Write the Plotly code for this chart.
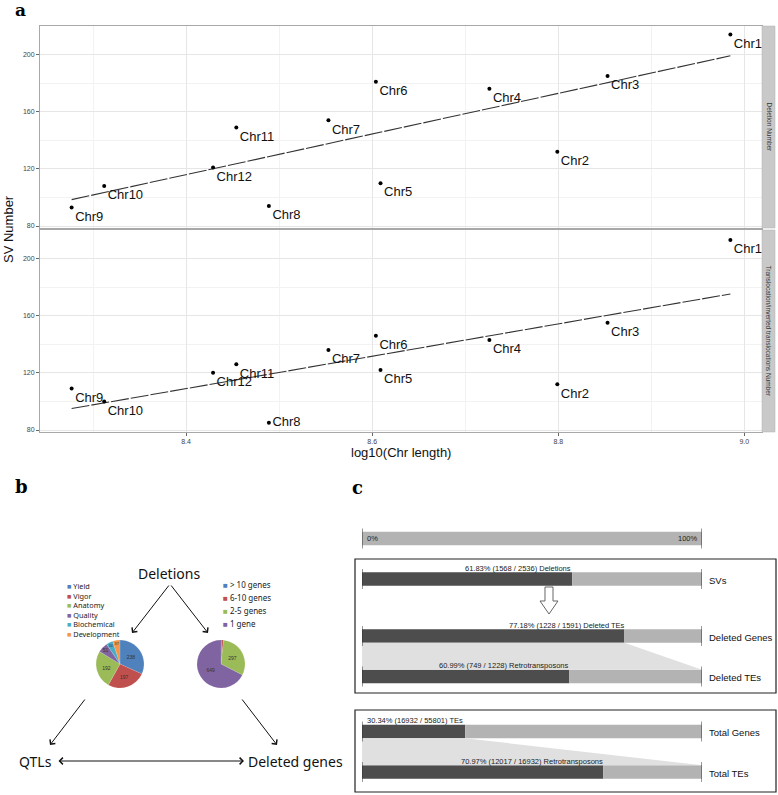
import numpy as np
import plotly.graph_objects as go

# ---------------- data ----------------
chroms = ['Chr1', 'Chr2', 'Chr3', 'Chr4', 'Chr5', 'Chr6', 'Chr7', 'Chr8', 'Chr9', 'Chr10', 'Chr11', 'Chr12']
log_len = [8.985, 8.799, 8.853, 8.726, 8.609, 8.604, 8.553, 8.489, 8.277, 8.312, 8.454, 8.429]
deletion_num = [214, 132, 185, 176, 110, 181, 154, 94, 93, 108, 149, 121]
transloc_num = [213, 112, 155, 143, 122, 146, 136, 85, 109, 100, 126, 120]
x_ticks = [8.4, 8.6, 8.8, 9.0]
y_ticks = [80, 120, 160, 200]
strip_labels = ['Deletion Number', 'Translocation/inverted translocations Number']

qtl_labels = ['Yield', 'Vigor', 'Anatomy', 'Quality', 'Biochemical', 'Development']
qtl_values = [238, 197, 192, 51, 34, 37]
gene_labels = ['> 10 genes', '6-10 genes', '2-5 genes', '1 gene']
gene_values = [6, 10, 297, 649]

bar_rows = ['SVs', 'Deleted Genes', 'Deleted TEs', 'Total Genes', 'Total TEs']
bar_pct = [61.83, 77.18, 60.99, 30.34, 70.97]
bar_text = ['61.83% (1568 / 2536) Deletions', '77.18% (1228 / 1591) Deleted TEs',
            '60.99% (749 / 1228) Retrotransposons', '30.34% (16932 / 55801) TEs',
            '70.97% (12017 / 16932) Retrotransposons']

# ---------------- layout helpers ----------------
W, H = 778, 795
def px(x):
    return x / W
def py(y):
    return 1 - y / H

excel = ['#4F81BD', '#C0504D', '#9BBB59', '#8064A2', '#4BACC6', '#F79646']
FONT = 'Liberation Sans'
BFONT = 'Noto Sans'

def label(text, x, y, size, family=FONT, color='#111', xanchor='center', yanchor='middle', **kw):
    return dict(text=text, xref='paper', yref='paper', x=px(x), y=py(y), showarrow=False,
                xanchor=xanchor, yanchor=yanchor, font=dict(family=family, size=size, color=color), **kw)

fig = go.Figure()

# ---------------- panel a ----------------
xr = [8.243, 9.019]
yr = [78.6, 220.0]
for idx, (vals, xa, ya) in enumerate([(deletion_num, 'x', 'y'), (transloc_num, 'x2', 'y2')]):
    xs = np.array(log_len)
    ys = np.array(vals, dtype=float)
    k, b = np.polyfit(xs, ys, 1)
    xl = np.array([xs.min(), xs.max()])
    fig.add_trace(go.Scatter(x=xl, y=k * xl + b, mode='lines', xaxis=xa, yaxis=ya,
                             line=dict(color='#333333', width=1.1, dash='18px,2px'),
                             hoverinfo='skip'))
    tpos = ['bottom right'] * len(chroms)
    if idx == 1:
        tpos[chroms.index('Chr8')] = 'middle right'
    fig.add_trace(go.Scatter(x=log_len, y=vals, mode='markers+text', text=chroms,
                             textposition=tpos, xaxis=xa, yaxis=ya, cliponaxis=False,
                             textfont=dict(family=FONT, size=13, color='#111'),
                             marker=dict(color='black', size=4)))

grid_major = '#e6e6e6'
grid_minor = '#f2f2f2'
axis_common = dict(showline=True, mirror=True, linecolor='#a8a8a8', linewidth=1,
                   showgrid=True, gridcolor=grid_major, gridwidth=1, zeroline=False,
                   ticklen=3, tickcolor='#666',
                   tickfont=dict(family=FONT, size=7, color='#444'))
xdom = [px(40), px(762)]
fig.update_layout(
    xaxis=dict(domain=xdom, anchor='y', range=xr, tickvals=x_ticks, showticklabels=False, ticks='',
               minor=dict(dtick=0.1, tick0=8.3, showgrid=True, gridcolor=grid_minor),
               **axis_common),
    yaxis=dict(domain=[py(228), py(26)], anchor='x', range=yr, tickvals=y_ticks, ticks='outside',
               minor=dict(dtick=20, tick0=80, showgrid=True, gridcolor=grid_minor),
               **axis_common),
    xaxis2=dict(domain=xdom, anchor='y2', range=xr, tickvals=x_ticks, ticks='outside',
                ticktext=[f'{v:.1f}' for v in x_ticks],
                minor=dict(dtick=0.1, tick0=8.3, showgrid=True, gridcolor=grid_minor),
                **axis_common),
    yaxis2=dict(domain=[py(432), py(230)], anchor='x2', range=yr, tickvals=y_ticks, ticks='outside',
                minor=dict(dtick=20, tick0=80, showgrid=True, gridcolor=grid_minor),
                **axis_common),
)

shapes = []
annotations = []
# strips
for (y0, y1), lab in zip([(26, 228), (230, 432)], strip_labels):
    shapes.append(dict(type='rect', xref='paper', yref='paper', x0=px(762), x1=px(775),
                       y0=py(y1), y1=py(y0), fillcolor='#c9c9c9', line=dict(color='#b0b0b0', width=0.5)))
    annotations.append(label(lab, 768.5, (y0 + y1) / 2, 6.5, color='#333', textangle=90))

annotations += [
    label('SV Number', 9, 229, 13, textangle=-90),
    label('log10(Chr length)', 401, 452, 13),
    label('<b>a</b>', 20, 10.5, 17, family='DejaVu Serif', color='black', borderpad=0),
    label('<b>b</b>', 21, 486, 18, family='DejaVu Serif', color='black'),
    label('<b>c</b>', 357, 487, 18, family='DejaVu Serif', color='black'),
]

# ---------------- panel b ----------------
r = 24
for labels, vals, cx, cy in [(qtl_labels, qtl_values, 120, 664), (gene_labels, gene_values, 221, 664)]:
    fig.add_trace(go.Pie(labels=labels, values=vals, sort=False, direction='clockwise', rotation=0,
                         marker=dict(colors=excel[:len(vals)], line=dict(color='rgba(255,255,255,0.4)', width=0.3)),
                         textinfo='value', textposition='inside', insidetextorientation='horizontal',
                         textfont=dict(size=5, color='#333', family=FONT),
                         domain=dict(x=[px(cx - r), px(cx + r)], y=[py(cy + r), py(cy - r)]),
                         showlegend=False))

# manual legends
for i, lab in enumerate(qtl_labels):
    annotations.append(label(f'<span style="color:{excel[i]}">■</span> {lab}', 66, 586 + i * 9.6, 7.3,
                             family=BFONT, color='#222', xanchor='left', borderpad=0))
for i, lab in enumerate(gene_labels):
    annotations.append(label(f'<span style="color:{excel[i]}">■</span> {lab}', 222, 584 + i * 13, 8,
                             family=BFONT, color='#222', xanchor='left', borderpad=0))

annotations += [
    label('Deletions', 169, 573, 14, family=BFONT),
    label('QTLs', 35, 761, 14, family=BFONT),
    label('Deleted genes', 295, 761, 14, family=BFONT),
]
arrow_style = dict(showarrow=True, arrowhead=4, arrowsize=1.3, arrowwidth=1, arrowcolor='#111',
                   xref='paper', yref='paper', text='', standoff=0, startstandoff=0)
for head, tail in [((132, 633), (170, 584)), ((208, 633), (170, 584)),
                   ((50, 745), (86, 698)), ((277, 745), (241, 698))]:
    annotations.append(dict(x=px(head[0]), y=py(head[1]), ax=tail[0] - head[0], ay=tail[1] - head[1],
                            **arrow_style))
annotations.append(dict(x=px(244), y=py(761), ax=57 - 244, ay=0, arrowside='end+start', **arrow_style))

# ---------------- panel c ----------------
row_y = {'scale': 538.5, 'SVs': 579, 'Deleted Genes': 636, 'Deleted TEs': 676.5,
         'Total Genes': 731.5, 'Total TEs': 772}
bw = 13.5
dark = '#4d4d4d'
light = '#b3b3b3'
fill = '#e0e0e0'

# connecting trapezoids
for upper, lower in [('Deleted Genes', 'Deleted TEs'), ('Total Genes', 'Total TEs')]:
    p = bar_pct[bar_rows.index(upper)]
    yu = row_y[upper] + bw / 2
    yl = row_y[lower] - bw / 2
    fig.add_trace(go.Scatter(x=[0, p, 100, 0, 0], y=[yu, yu, yl, yl, yu], fill='toself', mode='lines',
                             line=dict(width=0), fillcolor=fill, xaxis='x3', yaxis='y3', hoverinfo='skip'))

# scale bar
fig.add_trace(go.Bar(y=[row_y['scale']], x=[100], base=[0], orientation='h', width=bw,
                     marker=dict(color=light, line=dict(width=0)), xaxis='x3', yaxis='y3'))
ys = [row_y[r_] for r_ in bar_rows]
fig.add_trace(go.Bar(y=ys, x=bar_pct, base=[0] * len(bar_pct), orientation='h', width=bw,
                     marker=dict(color=dark, line=dict(width=0)), xaxis='x3', yaxis='y3'))
fig.add_trace(go.Bar(y=ys, x=[100 - p for p in bar_pct], base=bar_pct, orientation='h', width=bw,
                     marker=dict(color=light, line=dict(width=0)), xaxis='x3', yaxis='y3'))

fig.update_layout(
    xaxis3=dict(domain=[px(362), px(702)], range=[0, 100], visible=False, anchor='y3'),
    yaxis3=dict(domain=[0, py(520)], range=[795, 520], visible=False, anchor='x3'),
    barmode='overlay',
)

for key in ['scale'] + bar_rows:
    c = row_y[key]
    for xv in (0, 100):
        shapes.append(dict(type='line', xref='x3', yref='y3', x0=xv, x1=xv, y0=c - 10, y1=c + 10,
                           line=dict(color='#333', width=1)))

label_x = [45.9, 60.3, 41.5, 15.6, 50.0]
for key, txt, lx in zip(bar_rows, bar_text, label_x):
    annotations.append(dict(text=txt, xref='x3', yref='y3', x=lx, y=row_y[key] - bw / 2 - 4,
                            xanchor='center', yanchor='middle',
                            showarrow=False, font=dict(family=FONT, size=7.5, color='#222')))
    annotations.append(dict(text=key, xref='paper', yref='y3', x=px(707), y=row_y[key] + 1,
                            xanchor='left', yanchor='middle', showarrow=False,
                            font=dict(family=FONT, size=9.5, color='#111')))
annotations += [
    dict(text='0%', xref='x3', yref='y3', x=0.8, y=row_y['scale'], xanchor='left', yanchor='middle',
         showarrow=False, font=dict(family=FONT, size=7.5, color='#222')),
    dict(text='100%', xref='x3', yref='y3', x=99.3, y=row_y['scale'], xanchor='right', yanchor='middle',
         showarrow=False, font=dict(family=FONT, size=7.5, color='#222')),
]

# boxes
for y0, y1 in [(559, 693), (710, 792)]:
    shapes.append(dict(type='rect', xref='paper', yref='paper', x0=px(355), x1=px(776),
                       y0=py(y1), y1=py(y0), line=dict(color='#222', width=1.2), fillcolor='rgba(0,0,0,0)',
                       layer='above'))

# hollow down arrow
def P(x, y):
    return f'{px(x):.5f},{py(y):.5f}'
arrow_path = ('M ' + P(545, 587) + ' L ' + P(553, 587) + ' L ' + P(553, 601) + ' L ' + P(558, 601) +
              ' L ' + P(549, 614) + ' L ' + P(540, 601) + ' L ' + P(545, 601) + ' Z')
shapes.append(dict(type='path', xref='paper', yref='paper', path=arrow_path,
                   fillcolor='white', line=dict(color='#666', width=1)))

fig.update_layout(
    width=W, height=H, autosize=False,
    margin=dict(l=0, r=0, t=0, b=0),
    paper_bgcolor='white', plot_bgcolor='white',
    showlegend=False,
    shapes=shapes, annotations=annotations,
    font=dict(family=FONT),
)

fig.write_html('out.html', config={'displayModeBar': False},
               post_script="document.body.style.margin='0';document.body.style.overflow='hidden';")
